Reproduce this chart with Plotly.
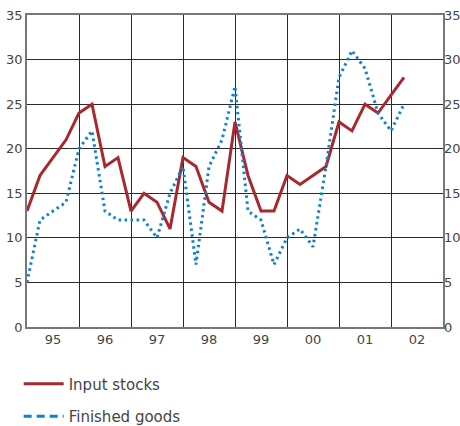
import plotly.graph_objects as go

years = ["95", "96", "97", "98", "99", "00", "01", "02"]
quarter_index = list(range(30))  # 1995 Q1 .. 2002 Q2
input_stocks = [13, 17, 19, 21, 24, 25, 18, 19, 13, 15, 14, 11, 19, 18, 14, 13,
                23, 17, 13, 13, 17, 16, 17, 18, 23, 22, 25, 24, 26, 28]
finished_goods = [5, 12, 13, 14, 20, 22, 13, 12, 12, 12, 10, 15, 18, 7, 18, 21,
                  27, 13, 12, 7, 10, 11, 9, 18, 28, 31, 29, 24, 22, 25]
y_ticks = [0, 5, 10, 15, 20, 25, 30, 35]

RED = "#a8282f"
BLUE = "#0f82c8"
GRID = "#2a2a2a"
TXT = "#444444"
FONT = "DejaVu Sans"

fig = go.Figure()
fig.add_trace(go.Scatter(x=quarter_index, y=input_stocks, mode="lines",
                         line=dict(color=RED, width=3), showlegend=False))
fig.add_trace(go.Scatter(x=quarter_index, y=finished_goods, mode="lines",
                         line=dict(color=BLUE, width=3, dash="2.5px,3.5px"),
                         showlegend=False))
# legend entries
fig.add_trace(go.Scatter(x=[None], y=[None], mode="lines", name="Input stocks",
                         line=dict(color=RED, width=3), yaxis="y2",
                         legendgroup="a"))
fig.add_trace(go.Scatter(x=[None], y=[None], mode="lines", name="Finished goods",
                         line=dict(color=BLUE, width=3, dash="8px,5px"), yaxis="y2",
                         legendgroup="b"))

n_years = len(years)
fig.update_layout(
    width=460, height=426,
    margin=dict(l=27, r=17, t=15, b=99, autoexpand=False),
    paper_bgcolor="white", plot_bgcolor="white",
    font=dict(family=FONT, size=13, color=TXT),
    xaxis=dict(range=[0, 4 * n_years], tickmode="array", automargin=False,
               tickvals=[4 * i + 2 for i in range(n_years)], ticktext=years,
               showgrid=False, zeroline=False, ticks="", ticklen=0,
               showline=True, linecolor="#777", linewidth=1.5, mirror=True,
               tickfont=dict(size=13, color=TXT),
               minor=dict(tickmode="array", tickvals=[4 * i for i in range(1, n_years)],
                          showgrid=True, gridcolor=GRID, gridwidth=1, ticks="")),
    yaxis=dict(range=[0, 35], tickmode="array", tickvals=y_ticks, automargin=False,
               showgrid=True, gridcolor=GRID, gridwidth=1, zeroline=False,
               showline=True, linecolor="#777", linewidth=1.5, mirror=True,
               ticks="", tickfont=dict(size=13, color=TXT)),
    yaxis2=dict(range=[0, 35], tickmode="array", tickvals=y_ticks, overlaying="y",
                side="right", showgrid=False, zeroline=False, ticks="", automargin=False,
                showline=False, tickfont=dict(size=13, color=TXT)),
    legend=dict(x=-0.02, xanchor="left", y=-0.13, yanchor="top",
                font=dict(family=FONT, size=15, color=TXT),
                traceorder="grouped", tracegroupgap=10, itemwidth=40,
                bgcolor="rgba(0,0,0,0)"),
)

fig.write_html("out.html", config={"displayModeBar": False},
               post_script="document.body.style.margin='0';document.body.style.overflow='hidden';")
